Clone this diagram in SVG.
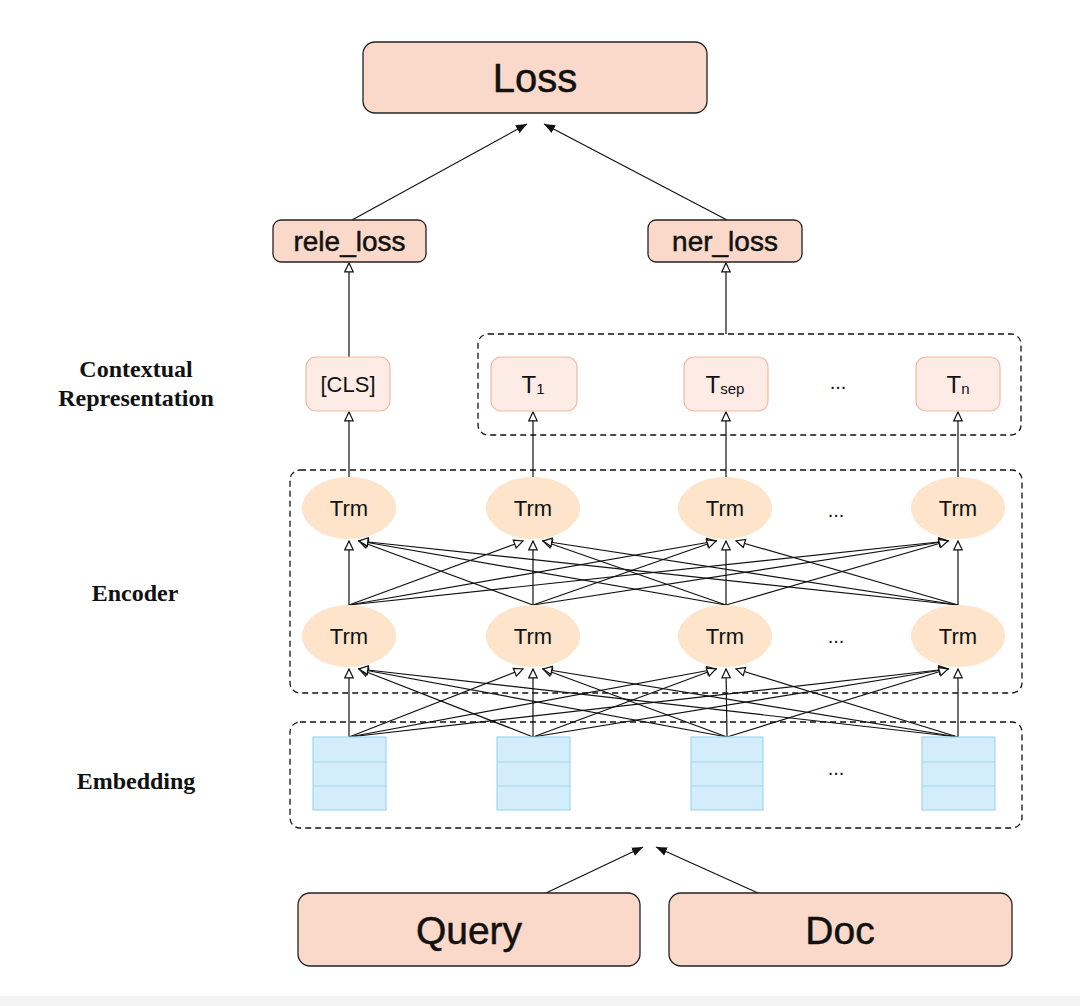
<svg xmlns="http://www.w3.org/2000/svg" width="1080" height="1006" viewBox="0 0 1080 1006">
<defs>
<style>
.big{fill:#fad9cb;stroke:#222;stroke-width:1.3}
.small{fill:#fdebe6;stroke:#f1b9a4;stroke-width:1.2}
.trm{fill:#fde4ca}
.emb{fill:#d3edfc;stroke:#a3d5ef;stroke-width:1.2}
.dash{fill:none;stroke:#111;stroke-width:1.3;stroke-dasharray:6,4}
.sans{font-family:"Liberation Sans",Arial,sans-serif;fill:#111;text-anchor:middle}
.heavy{stroke:#111;stroke-width:0.5}
.lab{font-family:"Liberation Serif","Times New Roman",serif;font-weight:bold;font-size:24px;fill:#111;text-anchor:middle}
.co{stroke:#111;stroke-width:1.2;fill:none;marker-end:url(#open)}
.cf{stroke:#111;stroke-width:1.2;fill:none;marker-end:url(#filled)}
</style>
<marker id="open" markerUnits="userSpaceOnUse" markerWidth="11" markerHeight="11" viewBox="0 0 10 10" refX="9" refY="5" orient="auto">
<path d="M1,1.2 L9,5 L1,8.8 Z" fill="#fff" stroke="#111" stroke-width="1.1"/>
</marker>
<marker id="filled" markerUnits="userSpaceOnUse" markerWidth="12" markerHeight="12" viewBox="0 0 12 12" refX="11" refY="6" orient="auto">
<path d="M0,1.5 L11,6 L0,10.5 Z" fill="#111"/>
</marker>
</defs>
<rect x="0" y="0" width="1080" height="1006" fill="#fff"/>
<rect x="0" y="996" width="1080" height="10" fill="#f4f4f4"/>

<g id="labels">
<text class="lab" x="136" y="377">Contextual</text>
<text class="lab" x="136" y="406">Representation</text>
<text class="lab" x="135" y="601">Encoder</text>
<text class="lab" x="136" y="789">Embedding</text>
</g>

<g id="groups">
<rect class="dash" x="478" y="334" width="543" height="101" rx="10"/>
<rect class="dash" x="290" y="470" width="732" height="223" rx="10"/>
<rect class="dash" x="290" y="722" width="732" height="106" rx="10"/>
</g>

<g id="connectors">
<line class="cf" x1="352" y1="220" x2="527" y2="124"/>
<line class="cf" x1="727" y1="220" x2="544" y2="124"/>
<line class="co" x1="349" y1="357" x2="349" y2="263"/>
<line class="co" x1="726" y1="334" x2="726" y2="263"/>
<line class="co" x1="349" y1="477" x2="349" y2="412"/>
<line class="co" x1="533" y1="477" x2="533" y2="412"/>
<line class="co" x1="726" y1="477" x2="726" y2="412"/>
<line class="co" x1="958" y1="477" x2="958" y2="412"/>
<line class="co" x1="349" y1="605" x2="349" y2="541"/>
<line class="co" x1="349" y1="605" x2="523" y2="541"/>
<line class="co" x1="349" y1="605" x2="716" y2="541"/>
<line class="co" x1="349" y1="605" x2="948" y2="541"/>
<line class="co" x1="533" y1="605" x2="359" y2="541"/>
<line class="co" x1="533" y1="605" x2="533" y2="541"/>
<line class="co" x1="533" y1="605" x2="716" y2="541"/>
<line class="co" x1="533" y1="605" x2="948" y2="541"/>
<line class="co" x1="726" y1="605" x2="359" y2="541"/>
<line class="co" x1="726" y1="605" x2="543" y2="541"/>
<line class="co" x1="726" y1="605" x2="726" y2="541"/>
<line class="co" x1="726" y1="605" x2="948" y2="541"/>
<line class="co" x1="958" y1="605" x2="359" y2="541"/>
<line class="co" x1="958" y1="605" x2="543" y2="541"/>
<line class="co" x1="958" y1="605" x2="736" y2="541"/>
<line class="co" x1="958" y1="605" x2="958" y2="541"/>
<line class="co" x1="349" y1="737" x2="349" y2="669"/>
<line class="co" x1="349" y1="737" x2="523" y2="669"/>
<line class="co" x1="349" y1="737" x2="716" y2="669"/>
<line class="co" x1="349" y1="737" x2="948" y2="669"/>
<line class="co" x1="533" y1="737" x2="359" y2="669"/>
<line class="co" x1="533" y1="737" x2="533" y2="669"/>
<line class="co" x1="533" y1="737" x2="716" y2="669"/>
<line class="co" x1="533" y1="737" x2="948" y2="669"/>
<line class="co" x1="727" y1="737" x2="359" y2="669"/>
<line class="co" x1="727" y1="737" x2="543" y2="669"/>
<line class="co" x1="727" y1="737" x2="726" y2="669"/>
<line class="co" x1="727" y1="737" x2="948" y2="669"/>
<line class="co" x1="958" y1="737" x2="359" y2="669"/>
<line class="co" x1="958" y1="737" x2="543" y2="669"/>
<line class="co" x1="958" y1="737" x2="736" y2="669"/>
<line class="co" x1="958" y1="737" x2="958" y2="669"/>
<line class="cf" x1="546" y1="893" x2="643" y2="847"/>
<line class="cf" x1="758" y1="893" x2="656" y2="847"/>
</g>

<g id="loss">
<rect class="big" x="363" y="42" width="344" height="71" rx="12"/>
<text class="sans heavy" x="535" y="92" font-size="40">Loss</text>
</g>
<g id="rele_loss">
<rect class="big" x="273" y="220" width="153" height="42" rx="8"/>
<text class="sans heavy" x="349.5" y="251" font-size="28">rele_loss</text>
</g>
<g id="ner_loss">
<rect class="big" x="648" y="220" width="154" height="42" rx="8"/>
<text class="sans heavy" x="725" y="251" font-size="28">ner_loss</text>
</g>

<g id="cls">
<rect class="small" x="306" y="357" width="84" height="54" rx="10"/>
<text class="sans" x="348" y="392" font-size="22">[CLS]</text>
</g>
<g id="t1">
<rect class="small" x="491" y="357" width="86" height="54" rx="10"/>
<text class="sans" x="533" y="393" font-size="24">T<tspan font-size="15" dy="1">1</tspan></text>
</g>
<g id="tsep">
<rect class="small" x="684" y="357" width="84" height="54" rx="10"/>
<text class="sans" x="725" y="393" font-size="24">T<tspan font-size="15" dy="1">sep</tspan></text>
</g>
<text class="sans" x="838" y="389" font-size="20">...</text>
<g id="tn">
<rect class="small" x="916" y="357" width="84" height="54" rx="10"/>
<text class="sans" x="958" y="393" font-size="24">T<tspan font-size="15" dy="1">n</tspan></text>
</g>

<g id="trm_upper_1"><ellipse class="trm" cx="349" cy="508" rx="47" ry="31"/><text class="sans" x="349" y="516" font-size="22">Trm</text></g>
<g id="trm_upper_2"><ellipse class="trm" cx="533" cy="508" rx="47" ry="31"/><text class="sans" x="533" y="516" font-size="22">Trm</text></g>
<g id="trm_upper_3"><ellipse class="trm" cx="725" cy="508" rx="47" ry="31"/><text class="sans" x="725" y="516" font-size="22">Trm</text></g>
<text class="sans" x="836" y="517" font-size="20">...</text>
<g id="trm_upper_4"><ellipse class="trm" cx="958" cy="508" rx="47" ry="31"/><text class="sans" x="958" y="516" font-size="22">Trm</text></g>

<g id="trm_lower_1"><ellipse class="trm" cx="349" cy="636" rx="47" ry="31"/><text class="sans" x="349" y="644" font-size="22">Trm</text></g>
<g id="trm_lower_2"><ellipse class="trm" cx="533" cy="636" rx="47" ry="31"/><text class="sans" x="533" y="644" font-size="22">Trm</text></g>
<g id="trm_lower_3"><ellipse class="trm" cx="725" cy="636" rx="47" ry="31"/><text class="sans" x="725" y="644" font-size="22">Trm</text></g>
<text class="sans" x="836" y="643" font-size="20">...</text>
<g id="trm_lower_4"><ellipse class="trm" cx="958" cy="636" rx="47" ry="31"/><text class="sans" x="958" y="644" font-size="22">Trm</text></g>

<g id="emb_1">
<rect class="emb" x="313" y="737" width="73" height="73"/>
<line class="emb" x1="313" y1="762" x2="386" y2="762"/><line class="emb" x1="313" y1="786" x2="386" y2="786"/>
</g>
<g id="emb_2">
<rect class="emb" x="497" y="737" width="73" height="73"/>
<line class="emb" x1="497" y1="762" x2="570" y2="762"/><line class="emb" x1="497" y1="786" x2="570" y2="786"/>
</g>
<g id="emb_3">
<rect class="emb" x="691" y="737" width="72" height="73"/>
<line class="emb" x1="691" y1="762" x2="763" y2="762"/><line class="emb" x1="691" y1="786" x2="763" y2="786"/>
</g>
<text class="sans" x="836" y="775" font-size="20">...</text>
<g id="emb_4">
<rect class="emb" x="922" y="737" width="73" height="73"/>
<line class="emb" x1="922" y1="762" x2="995" y2="762"/><line class="emb" x1="922" y1="786" x2="995" y2="786"/>
</g>

<g id="query">
<rect class="big" x="298" y="893" width="342" height="73" rx="12"/>
<text class="sans heavy" x="469" y="944" font-size="39">Query</text>
</g>
<g id="doc">
<rect class="big" x="669" y="893" width="343" height="73" rx="12"/>
<text class="sans heavy" x="840" y="944" font-size="39">Doc</text>
</g>
</svg>
